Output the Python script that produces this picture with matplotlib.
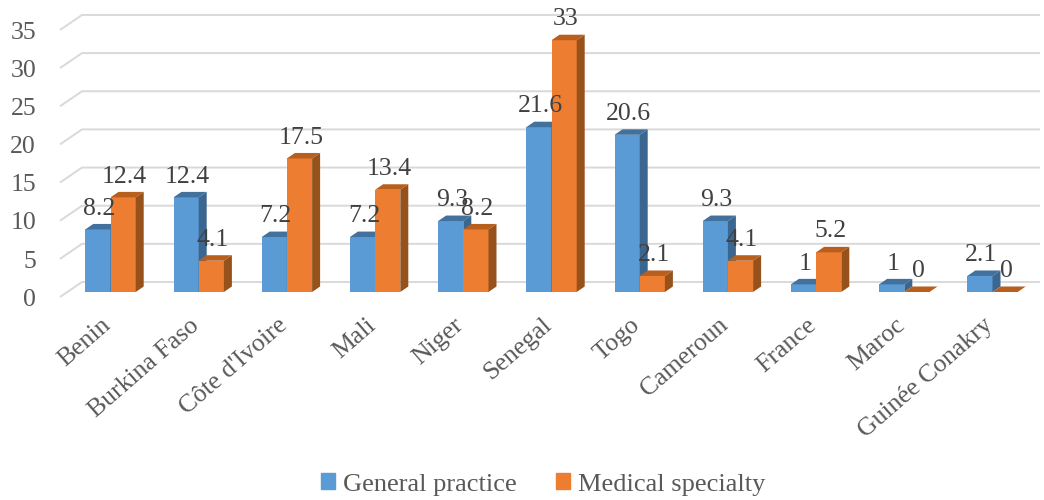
import matplotlib
matplotlib.use('Agg')
import matplotlib.pyplot as plt
from matplotlib.patches import Polygon, Patch

paises = ['Benin', 'Burkina Faso', "Côte d'Ivoire", 'Mali', 'Niger', 'Senegal',
          'Togo', 'Cameroun', 'France', 'Maroc', 'Guinée Conakry']
general = [8.2, 12.4, 7.2, 7.2, 9.3, 21.6, 20.6, 9.3, 1, 1, 2.1]
especialidad = [12.4, 4.1, 17.5, 13.4, 8.2, 33, 2.1, 4.1, 5.2, 0, 0]
marcas_y = [0, 5, 10, 15, 20, 25, 30, 35]

AZUL = ('#5b9bd5', '#41719c', '#3a6690')
NARANJA = ('#ed7d31', '#b85f1e', '#97521c')
GRIS = '#d9d9d9'

# escala en pixeles de la figura
PASO_X = 88.2
ORIGEN_X = 110.5
ESC_Y = 7.63
BASE_Y = 292

def dx(px):
    return px / PASO_X

def dy(px):
    return px / ESC_Y

def xpix(px):
    return (px - ORIGEN_X) / PASO_X

def ypix(py):
    return (BASE_Y - py) / ESC_Y

ANCHO = 25.2 / PASO_X
FONDO_X = dx(8)
FONDO_Y = dy(5.5)

plt.rcParams['font.family'] = ['Liberation Serif', 'DejaVu Serif']

fig = plt.figure(figsize=(10.44, 5), dpi=100)
ax = fig.add_axes([0, 0, 1, 1])
ax.set_xlim(xpix(0), xpix(1044))
ax.set_ylim(ypix(500), ypix(0))
ax.axis('off')

# grilla: pared del fondo y piso izquierdo
for v in marcas_y:
    atras = ypix(282) + v
    frente = ypix(297) + v
    ax.plot([xpix(60), xpix(82), xpix(1040)], [frente, atras, atras],
            color=GRIS, lw=1.4, zorder=1, solid_capstyle='butt')
    ax.annotate(str(v), (xpix(36), frente), xytext=(0, -2), textcoords='offset points',
                ha='right', va='center', fontsize=18.5, color='#595959')

def barra3d(x, alto, colores, z):
    ax.bar(x, alto, ANCHO, align='edge', color=colores[0], lw=0, zorder=z)
    techo = [(x, alto), (x + FONDO_X, alto + FONDO_Y),
             (x + ANCHO + FONDO_X, alto + FONDO_Y), (x + ANCHO, alto)]
    lado = [(x + ANCHO, 0), (x + ANCHO + FONDO_X, FONDO_Y),
            (x + ANCHO + FONDO_X, alto + FONDO_Y), (x + ANCHO, alto)]
    ax.add_patch(Polygon(techo, color=colores[1], lw=0, zorder=z))
    ax.add_patch(Polygon(lado, color=colores[2], lw=0, zorder=z))

for i in range(len(paises)):
    barra3d(i - ANCHO, general[i], AZUL, 2 + i * 0.01)
    barra3d(i, especialidad[i], NARANJA, 3 + i * 0.01)

    for x, v in ((i - ANCHO / 2, general[i]), (i + ANCHO / 2, especialidad[i])):
        ax.annotate(str(v), (x, v), xytext=(1, 15), textcoords='offset points',
                    ha='center', va='center', fontsize=18.5, color='#404040', zorder=5)

    ax.annotate(paises[i], (i, 0), xytext=(-7, -16), textcoords='offset points',
                rotation=41, rotation_mode='anchor', ha='right', va='top',
                fontsize=18.5, color='#595959')

manijas = [Patch(color=AZUL[0], label='General practice'),
           Patch(color=NARANJA[0], label='Medical specialty')]
ax.legend(handles=manijas, ncol=2, frameon=False, loc='center',
          bbox_to_anchor=(0.520, 0.031), fontsize=19, labelcolor='#595959',
          handlelength=0.53, handleheight=0.56, handletextpad=0.3, columnspacing=1.5)

fig.savefig('out.png', dpi=100)
